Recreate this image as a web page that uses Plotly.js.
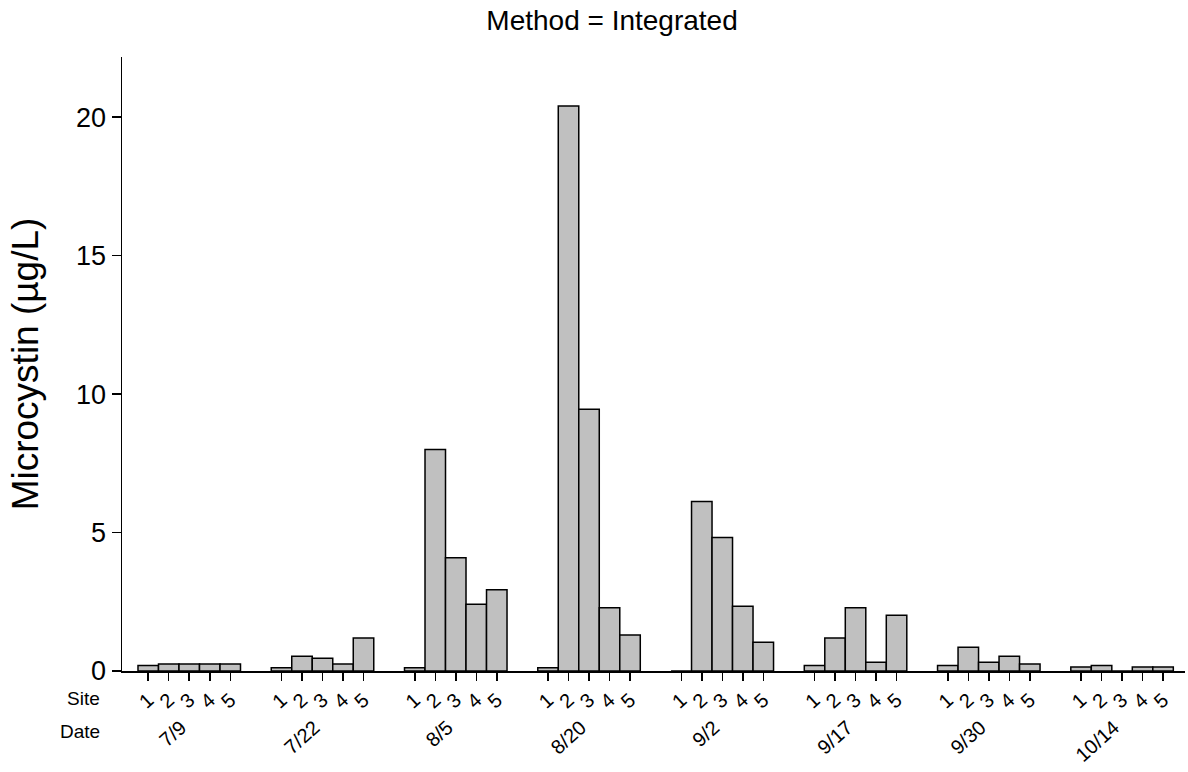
<!DOCTYPE html>
<html>
<head>
<meta charset="utf-8">
<script src="https://cdn.plot.ly/plotly-3.0.1.min.js"></script>
<style>html,body{margin:0;padding:0;background:#fff;}#chart{width:1188px;height:772px;}</style>
</head>
<body>
<div id="chart"></div>
<script>
// ---- data ----
var dates = ['7/9', '7/22', '8/5', '8/20', '9/2', '9/17', '9/30', '10/14'];
var sites = ['1', '2', '3', '4', '5'];
var v_0709 = [0.20, 0.25, 0.25, 0.25, 0.25];
var v_0722 = [0.12, 0.53, 0.46, 0.25, 1.19];
var v_0805 = [0.12, 8.00, 4.09, 2.41, 2.93];
var v_0820 = [0.12, 20.40, 9.45, 2.28, 1.30];
var v_0902 = [0.00, 6.12, 4.82, 2.34, 1.04];
var v_0917 = [0.20, 1.19, 2.28, 0.32, 2.01];
var v_0930 = [0.20, 0.86, 0.32, 0.53, 0.25];
var v_1014 = [0.14, 0.20, 0.00, 0.14, 0.14];
var yTicks = [0, 5, 10, 15, 20];

// ---- build ----
var valuesByDate = [v_0709, v_0722, v_0805, v_0820, v_0902, v_0917, v_0930, v_1014];
var groupStep = 6.5; // 5 bars + gap
var dateLabelShift = -0.4; // date label end sits just left of the group's middle bar
var xs = [], ys = [], tickText = [], hover = [], groupCenters = [];
dates.forEach(function (d, g) {
  groupCenters.push(g * groupStep + 2 + dateLabelShift);
  sites.forEach(function (s, i) {
    xs.push(g * groupStep + i);
    ys.push(valuesByDate[g][i]);
    tickText.push(s);
    hover.push('Date ' + d + ', Site ' + s);
  });
});

var FONT = 'Liberation Sans, Arial, sans-serif';
var XRANGE = [-1.28, 50.57];
var annotations = [
  {x: -0.019, xref: 'paper', y: -0.044, yref: 'paper', text: 'Site',
   showarrow: false, xanchor: 'right', yanchor: 'middle', font: {family: FONT, size: 19, color: '#000'}},
  {x: -0.019, xref: 'paper', y: -0.098, yref: 'paper', text: 'Date',
   showarrow: false, xanchor: 'right', yanchor: 'middle', font: {family: FONT, size: 19, color: '#000'}}
];

var bars = {
  type: 'bar', x: xs, y: ys, text: hover, hoverinfo: 'text+y', textposition: 'none',
  marker: {color: '#c0c0c0', line: {color: '#000', width: 1.5}}
};
// carrier for the Date label axis (draws nothing)
var dateAxisCarrier = {
  type: 'scatter', mode: 'none', xaxis: 'x2', yaxis: 'y',
  x: groupCenters, y: groupCenters.map(function () { return 0; }),
  hoverinfo: 'skip', showlegend: false
};

var layout = {
  width: 1188, height: 772,
  margin: {l: 122, r: 3, t: 57, b: 101},
  paper_bgcolor: '#fff', plot_bgcolor: '#fff',
  showlegend: false, bargap: 0,
  font: {family: FONT, color: '#000'},
  title: {text: 'Method = Integrated', x: 0.461, xref: 'paper', xanchor: 'center',
          y: 0.974, yref: 'container', yanchor: 'middle',
          font: {family: FONT, size: 28, color: '#000'}},
  xaxis: {
    range: XRANGE, showgrid: false, zeroline: false,
    showline: true, linecolor: '#000', linewidth: 1.5,
    ticks: 'outside', ticklen: 8, tickwidth: 1.5, tickcolor: '#000',
    tickmode: 'array', tickvals: xs, ticktext: tickText, tickangle: -42,
    tickfont: {family: FONT, size: 20, color: '#000'}
  },
  xaxis2: {
    overlaying: 'x', side: 'bottom', anchor: 'y',
    range: XRANGE, showgrid: false, zeroline: false, showline: false,
    ticks: '', tickmode: 'array', tickvals: groupCenters, ticktext: dates, tickangle: -42,
    ticklabelstandoff: 40,
    tickfont: {family: FONT, size: 20, color: '#000'}
  },
  yaxis: {
    range: [0, 22.17], showgrid: false, zeroline: false,
    showline: true, linecolor: '#000', linewidth: 1.5,
    ticks: 'outside', ticklen: 9, tickwidth: 1.5, tickcolor: '#000',
    tickmode: 'array', tickvals: yTicks,
    tickfont: {family: FONT, size: 27, color: '#000'},
    title: {text: 'Microcystin (µg/L)', standoff: 26, font: {family: FONT, size: 37, color: '#000'}}
  },
  annotations: annotations
};

Plotly.newPlot('chart', [bars, dateAxisCarrier], layout, {displayModeBar: false, staticPlot: true});
</script>
</body>
</html>
